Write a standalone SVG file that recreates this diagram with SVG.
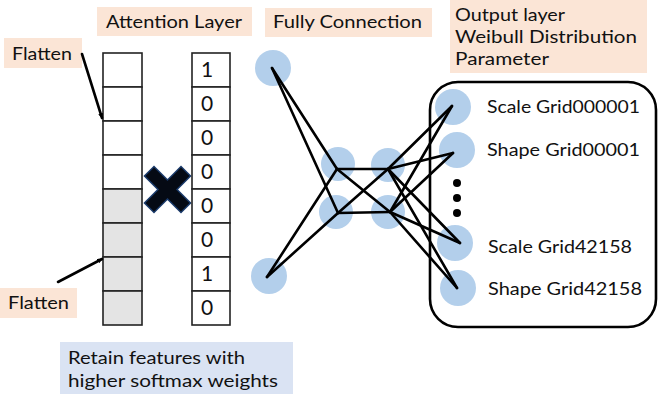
<svg xmlns="http://www.w3.org/2000/svg" width="659" height="394" viewBox="0 0 659 394">
<defs>
<marker id="arr" viewBox="0 0 10 10" refX="9" refY="5" markerWidth="5" markerHeight="5" orient="auto" markerUnits="userSpaceOnUse">
<path d="M0,0 L10,5 L0,10 z" fill="#000"/>
</marker>
</defs>
<style>
text{font-family:Lato,"Noto Sans","Liberation Sans",sans-serif;font-size:18px;fill:#111}
.hdr{fill:#fbe5d6}
.note{fill:#dae3f3}
.cw{fill:#fff;stroke:#222;stroke-width:1.6}
.cg{fill:#e4e4e4;stroke:#222;stroke-width:1.6}
.nd{fill:#b3cfeb}
.ln{stroke:#000;stroke-width:2.6;fill:none;stroke-linecap:round}
.dig{text-anchor:middle;font-size:21px}
.lab{font-size:18px}
</style>
<rect width="659" height="394" fill="#fff"/>

<g id="hdr-attention"><rect class="hdr" x="97" y="7" width="155" height="29"/><text x="106" y="28" textLength="136" lengthAdjust="spacingAndGlyphs">Attention Layer</text></g>
<g id="hdr-fc"><rect class="hdr" x="265" y="8" width="167" height="29"/><text x="273" y="28" textLength="149" lengthAdjust="spacingAndGlyphs">Fully Connection</text></g>
<g id="hdr-output"><rect class="hdr" x="450" y="0" width="197" height="73"/>
<text x="455" y="21" textLength="110" lengthAdjust="spacingAndGlyphs">Output layer</text>
<text x="455" y="43" textLength="182" lengthAdjust="spacingAndGlyphs">Weibull Distribution</text>
<text x="455" y="65" textLength="94" lengthAdjust="spacingAndGlyphs">Parameter</text></g>
<g id="flatten-top"><rect class="hdr" x="4" y="38" width="78" height="30"/><text x="12" y="60" textLength="60" lengthAdjust="spacingAndGlyphs">Flatten</text></g>
<g id="flatten-bottom"><rect class="hdr" x="0" y="288" width="77" height="30"/><text x="8" y="309" textLength="61" lengthAdjust="spacingAndGlyphs">Flatten</text></g>
<g id="note"><rect class="note" x="60" y="342" width="233" height="52"/>
<text x="68" y="364" textLength="177" lengthAdjust="spacingAndGlyphs">Retain features with</text>
<text x="68" y="387" textLength="210" lengthAdjust="spacingAndGlyphs">higher softmax weights</text></g>

<g id="feature-column">
<rect class="cw" x="103" y="53" width="39" height="34"/>
<rect class="cw" x="103" y="87" width="39" height="34"/>
<rect class="cw" x="103" y="121" width="39" height="34"/>
<rect class="cw" x="103" y="155" width="39" height="34"/>
<rect class="cg" x="103" y="189" width="39" height="34"/>
<rect class="cg" x="103" y="223" width="39" height="34"/>
<rect class="cg" x="103" y="257" width="39" height="34"/>
<rect class="cg" x="103" y="291" width="39" height="34"/>
</g>

<g id="multiply">
<path d="M154,176 L181,203 M181,176 L154,203" stroke="#1a3a6a" stroke-width="15" stroke-linecap="square"/>
<path d="M154,176 L181,203 M181,176 L154,203" stroke="#050a14" stroke-width="12" stroke-linecap="square"/>
</g>

<g id="attention-column">
<rect class="cw" x="192" y="53" width="38" height="34"/>
<rect class="cw" x="192" y="87" width="38" height="34"/>
<rect class="cw" x="192" y="121" width="38" height="34"/>
<rect class="cw" x="192" y="155" width="38" height="34"/>
<rect class="cw" x="192" y="189" width="38" height="34"/>
<rect class="cw" x="192" y="223" width="38" height="34"/>
<rect class="cw" x="192" y="257" width="38" height="34"/>
<rect class="cw" x="192" y="291" width="38" height="34"/>
<text class="dig" x="207" y="77">1</text>
<text class="dig" x="207" y="111">0</text>
<text class="dig" x="207" y="145">0</text>
<text class="dig" x="207" y="179">0</text>
<text class="dig" x="207" y="213">0</text>
<text class="dig" x="207" y="247">0</text>
<text class="dig" x="207" y="281">1</text>
<text class="dig" x="207" y="315">0</text>
</g>

<g id="output-box"><rect x="430" y="82" width="226" height="245" rx="28" ry="28" fill="none" stroke="#000" stroke-width="2.6"/></g>

<g id="in1"><circle class="nd" cx="273" cy="68" r="18"/></g>
<g id="in2"><circle class="nd" cx="269" cy="276" r="18"/></g>
<g id="h1a"><circle class="nd" cx="338" cy="164" r="17"/></g>
<g id="h1b"><circle class="nd" cx="336" cy="212" r="17"/></g>
<g id="h2a"><circle class="nd" cx="388" cy="165" r="17"/></g>
<g id="h2b"><circle class="nd" cx="388" cy="212" r="17"/></g>
<g id="o1"><circle class="nd" cx="453" cy="107" r="18"/><text class="lab" x="487" y="113" textLength="153" lengthAdjust="spacingAndGlyphs">Scale Grid000001</text></g>
<g id="o2"><circle class="nd" cx="457" cy="150" r="18"/><text class="lab" x="487" y="156" textLength="153" lengthAdjust="spacingAndGlyphs">Shape Grid00001</text></g>
<g id="dots"><circle cx="457" cy="183" r="4" fill="#000"/><circle cx="457" cy="198" r="4" fill="#000"/><circle cx="457" cy="213" r="4" fill="#000"/></g>
<g id="o3"><circle class="nd" cx="455" cy="243" r="18"/><text class="lab" x="488" y="253" textLength="144" lengthAdjust="spacingAndGlyphs">Scale Grid42158</text></g>
<g id="o4"><circle class="nd" cx="458" cy="288" r="18"/><text class="lab" x="488" y="295" textLength="154" lengthAdjust="spacingAndGlyphs">Shape Grid42158</text></g>

<g id="connectors">
<line class="ln" x1="82" y1="54" x2="102" y2="118" marker-end="url(#arr)" stroke-width="2.4"/>
<line class="ln" x1="58" y1="282" x2="102" y2="259" marker-end="url(#arr)" stroke-width="2.4"/>
<line class="ln" x1="272" y1="68" x2="337" y2="169"/>
<line class="ln" x1="272" y1="68" x2="338" y2="213"/>
<line class="ln" x1="267" y1="277" x2="337" y2="169"/>
<line class="ln" x1="267" y1="277" x2="338" y2="213"/>
<line class="ln" x1="337" y1="169" x2="388" y2="169"/>
<line class="ln" x1="337" y1="169" x2="390" y2="212"/>
<line class="ln" x1="338" y1="213" x2="388" y2="169"/>
<line class="ln" x1="338" y1="213" x2="390" y2="212"/>
<line class="ln" x1="388" y1="169" x2="452" y2="106"/>
<line class="ln" x1="388" y1="169" x2="453" y2="153"/>
<line class="ln" x1="388" y1="169" x2="460" y2="243"/>
<line class="ln" x1="388" y1="169" x2="457" y2="288"/>
<line class="ln" x1="390" y1="212" x2="452" y2="106"/>
<line class="ln" x1="390" y1="212" x2="453" y2="153"/>
<line class="ln" x1="390" y1="212" x2="460" y2="243"/>
<line class="ln" x1="390" y1="212" x2="457" y2="288"/>
</g>
</svg>
